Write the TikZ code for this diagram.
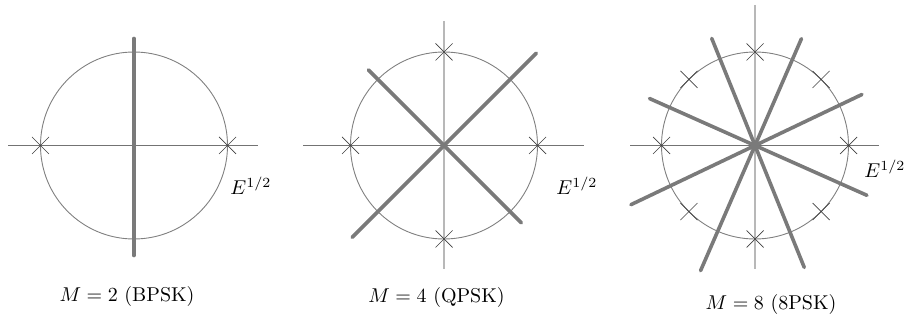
\documentclass[tikz,border=0pt]{standalone}
\tikzset{
  circ/.style={draw=black!50, line width=0.45pt},
  haxis/.style={draw=black!55, line width=0.45pt},
  vaxis/.style={draw=black!28, line width=0.6pt},
  bound/.style={draw=black!52, line width=1.8pt, line cap=round},
  sym/.style={draw=black!75, line width=0.35pt},
  elabel/.style={anchor=base west, inner sep=0pt},
  title/.style={anchor=base, inner sep=0pt},
}
\newcommand\psksym[1]{\draw[sym,shift={(#1)}] (-8.5,-8.5) -- (8.5,8.5) (-8.5,8.5) -- (8.5,-8.5);}
\begin{document}
\begin{tikzpicture}[x=0.5pt,y=-0.5pt]
\useasboundingbox (0,0) rectangle (905,325);
% ---------- BPSK ----------
\begin{scope}[shift={(134,145.5)}]
  \coordinate (c1) at (0,0);
  \draw[haxis] (-126,0) -- (124,0);
  \draw[circ] (c1) circle (93.5);
  \draw[bound] (0,-107) -- (0,110);
  \psksym{0:93.5}
  \psksym{180:93.5}
\end{scope}
\node[elabel] (e1) at (230,195) {$E^{1/2}$};
\node[title] (t1) at (127,302) {$M=2$ (BPSK)};
% ---------- QPSK ----------
\begin{scope}[shift={(444,145.5)}]
  \coordinate (c2) at (0,0);
  \draw[vaxis] (0,-124.5) -- (0,123.5);
  \draw[haxis] (-141,0) -- (140,0);
  \draw[circ] (c2) circle (93.5);
  \draw[bound] (135:130) -- (315:130.5);
  \draw[bound] (225:107) -- (45:109.5);
  \foreach \a in {0,90,180,270} {\psksym{\a:93.5}}
\end{scope}
\node[elabel] (e2) at (556,195) {$E^{1/2}$};
\node[title] (t2) at (436.5,303) {$M=4$ (QPSK)};
% ---------- 8PSK ----------
\begin{scope}[shift={(755,145.5)}]
  \coordinate (c3) at (0,0);
  \draw[vaxis] (0,-140.5) -- (0,123.5);
  \draw[haxis] (-125,0) -- (124,0);
  \draw[circ] (c3) circle (93.5);
  \draw[bound] (248:115.5) -- (68:131.5);
  \draw[bound] (293.5:116.5) -- (113.5:136.5);
  \draw[bound] (204:115.5) -- (24:122.5);
  \draw[bound] (154.5:137.5) -- (334.5:118.5);
  \foreach \a in {0,45,...,315} {\psksym{\a:93.5}}
\end{scope}
\node[elabel] (e3) at (864,178) {$E^{1/2}$};
\node[title] (t3) at (771,310) {$M=8$ (8PSK)};
\end{tikzpicture}
\end{document}
